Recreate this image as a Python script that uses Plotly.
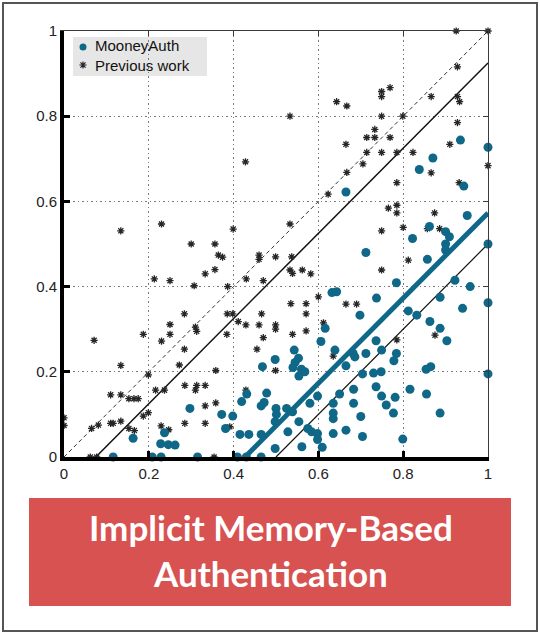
import plotly.graph_objects as go

# ---- data -------------------------------------------------------------
mooney_points = [
    (0.116, 0.0), (0.208, 0.0), (0.229, 0.0), (0.315, 0.0), (0.409, 0.0), (0.430, 0.0), (0.465, 0.0),
    (0.163, 0.044), (0.237, 0.057), (0.228, 0.031), (0.246, 0.029), (0.262, 0.028), (0.297, 0.114),
    (0.372, 0.100), (0.398, 0.096), (0.381, 0.067), (0.415, 0.053), (0.436, 0.053), (0.465, 0.053),
    (0.419, 0.130), (0.431, 0.148), (0.468, 0.212), (0.465, 0.120), (0.472, 0.128), (0.478, 0.150),
    (0.498, 0.229), (0.543, 0.251), (0.553, 0.232), (0.545, 0.222), (0.540, 0.210), (0.560, 0.206),
    (0.568, 0.200), (0.554, 0.190), (0.616, 0.302), (0.606, 0.271), (0.639, 0.251), (0.632, 0.386),
    (0.643, 0.388), (0.500, 0.114), (0.525, 0.114), (0.539, 0.106), (0.501, 0.100), (0.498, 0.083),
    (0.580, 0.126), (0.598, 0.143), (0.635, 0.126), (0.635, 0.103), (0.635, 0.090), (0.528, 0.059),
    (0.554, 0.083), (0.575, 0.067), (0.584, 0.059), (0.598, 0.055), (0.598, 0.041), (0.498, 0.020),
    (0.561, 0.024), (0.609, 0.023), (0.635, 0.055), (0.650, 0.148), (0.665, 0.063), (0.700, 0.095),
    (0.704, 0.048), (0.683, 0.159), (0.683, 0.126), (0.665, 0.214), (0.682, 0.243), (0.686, 0.235),
    (0.712, 0.243), (0.704, 0.195), (0.730, 0.197), (0.748, 0.200), (0.736, 0.273), (0.749, 0.251),
    (0.784, 0.243), (0.778, 0.226), (0.698, 0.333), (0.737, 0.373), (0.712, 0.480), (0.784, 0.409),
    (0.736, 0.165), (0.816, 0.159), (0.749, 0.143), (0.781, 0.140), (0.855, 0.148), (0.760, 0.122),
    (0.777, 0.103), (0.887, 0.103), (0.799, 0.042), (0.854, 0.206), (0.865, 0.212), (1.000, 0.195),
    (0.812, 0.343), (0.832, 0.333), (0.863, 0.318), (0.887, 0.302), (0.903, 0.273), (0.887, 0.375),
    (0.922, 0.415), (0.958, 0.400), (0.940, 0.349), (1.000, 0.362), (1.000, 0.500), (0.857, 0.464),
    (0.665, 0.622), (0.838, 0.675), (0.870, 0.702), (0.935, 0.744), (1.000, 0.727), (0.943, 0.636),
    (0.951, 0.567), (0.862, 0.541), (0.900, 0.529), (0.909, 0.517), (0.822, 0.513), (0.900, 0.500),
    (0.900, 0.486),
]

previous_points = [
    (0.000, 0.092), (0.000, 0.074), (0.062, 0.000), (0.077, 0.000), (0.065, 0.067), (0.081, 0.075),
    (0.110, 0.079), (0.116, 0.079), (0.134, 0.084), (0.153, 0.067), (0.166, 0.062), (0.229, 0.073),
    (0.247, 0.064), (0.285, 0.079), (0.333, 0.079), (0.110, 0.146), (0.134, 0.146), (0.153, 0.137),
    (0.165, 0.137), (0.175, 0.137), (0.199, 0.104), (0.187, 0.096), (0.199, 0.193), (0.134, 0.215),
    (0.071, 0.274), (0.216, 0.157), (0.237, 0.157), (0.285, 0.168), (0.313, 0.168), (0.333, 0.168),
    (0.310, 0.157), (0.358, 0.127), (0.333, 0.120), (0.272, 0.216), (0.284, 0.253), (0.230, 0.272),
    (0.187, 0.288), (0.250, 0.288), (0.250, 0.311), (0.284, 0.336), (0.310, 0.305), (0.313, 0.295),
    (0.213, 0.418), (0.250, 0.414), (0.307, 0.402), (0.333, 0.430), (0.356, 0.440), (0.386, 0.400),
    (0.430, 0.418), (0.470, 0.414), (0.300, 0.500), (0.356, 0.500), (0.364, 0.474), (0.374, 0.469),
    (0.460, 0.474), (0.460, 0.464), (0.499, 0.470), (0.537, 0.470), (0.533, 0.439), (0.539, 0.431),
    (0.562, 0.439), (0.582, 0.430), (0.385, 0.336), (0.398, 0.336), (0.411, 0.318), (0.429, 0.310),
    (0.466, 0.336), (0.460, 0.310), (0.499, 0.310), (0.499, 0.300), (0.384, 0.288), (0.470, 0.280),
    (0.539, 0.288), (0.571, 0.296), (0.571, 0.336), (0.571, 0.360), (0.535, 0.360), (0.600, 0.376),
    (0.612, 0.315), (0.455, 0.253), (0.635, 0.237), (0.358, 0.203), (0.499, 0.203), (0.429, 0.157),
    (0.391, 0.071), (0.354, 0.000), (0.665, 0.359), (0.690, 0.359), (0.749, 0.439), (0.812, 0.462),
    (0.785, 0.275), (0.875, 0.286), (0.134, 0.531), (0.230, 0.547), (0.399, 0.535), (0.428, 0.693),
    (0.533, 0.800), (0.533, 0.547), (0.623, 0.617), (0.643, 0.834), (0.667, 0.824), (0.665, 0.734),
    (0.667, 0.668), (0.925, 1.000), (1.000, 1.000), (0.928, 0.916), (0.769, 0.867), (0.749, 0.858),
    (0.749, 0.846), (0.866, 0.846), (0.928, 0.846), (0.933, 0.834), (0.749, 0.800), (0.799, 0.800),
    (0.928, 0.785), (0.733, 0.769), (0.714, 0.750), (0.733, 0.750), (0.769, 0.750), (0.910, 0.734),
    (0.714, 0.715), (0.749, 0.715), (0.785, 0.715), (0.823, 0.715), (0.705, 0.688), (0.866, 0.667),
    (1.000, 0.684), (0.785, 0.644), (0.932, 0.644), (0.765, 0.584), (0.785, 0.591), (0.785, 0.573),
    (0.874, 0.573), (0.749, 0.531), (0.800, 0.539), (0.857, 0.536), (0.886, 0.536),
]

# reference lines y = x - offset
diagonal_offset = 0.0
upper_bound_offset = 0.075
lower_bound_offset = 0.5
fit_offset = 0.427

tick_values = [0, 0.2, 0.4, 0.6, 0.8, 1]
tick_labels = ["0", "0.2", "0.4", "0.6", "0.8", "1"]

series_names = ["MooneyAuth", "Previous work"]
title_lines = ["Implicit Memory-Based", "Authentication"]

# ---- layout geometry (pixels) ----------------------------------------
W, H = 540, 634
L, R, T, B = 64, 488, 31, 457

def px_x(p):
    return (p - L) / (R - L)

def px_y(p):
    return (B - p) / (B - T)

BLUE = "#0f6887"
STAR = "#262626"
SANS = "Liberation Sans, Arial, sans-serif"
TICK_FONT = dict(family=SANS, size=15, color="#222222")

fig = go.Figure()

def offset_line(offset, **line):
    xs = [max(0.0, offset), 1.0]
    ys = [x - offset for x in xs]
    fig.add_trace(go.Scatter(x=xs, y=ys, mode="lines", line=line,
                             showlegend=False, hoverinfo="skip"))

offset_line(diagonal_offset, color="#333333", width=1, dash="4px,3px")
offset_line(upper_bound_offset, color="#111111", width=1.5)
offset_line(lower_bound_offset, color="#111111", width=1.2)

px_, py_ = zip(*previous_points)
fig.add_trace(go.Scatter(
    x=px_, y=py_, mode="markers", name=series_names[1], showlegend=False,
    marker=dict(symbol="asterisk-open", size=6, color=STAR, line=dict(color=STAR, width=1.3)),
    cliponaxis=False,
))

mx, my = zip(*mooney_points)
fig.add_trace(go.Scatter(
    x=mx, y=my, mode="markers", name=series_names[0], showlegend=False,
    marker=dict(symbol="circle", size=9, color=BLUE),
    cliponaxis=False,
))

offset_line(fit_offset, color=BLUE, width=5)

# legend keys
fig.add_trace(go.Scatter(
    x=[px_x(83)], y=[px_y(47)], mode="markers", showlegend=False, hoverinfo="skip",
    marker=dict(symbol="circle", size=7, color=BLUE), cliponaxis=False))
fig.add_trace(go.Scatter(
    x=[px_x(83)], y=[px_y(65)], mode="markers", showlegend=False, hoverinfo="skip",
    marker=dict(symbol="asterisk-open", size=6, color=STAR, line=dict(color=STAR, width=1.2)),
    cliponaxis=False))

# invisible trace so the mirrored top/right axes are drawn
fig.add_trace(go.Scatter(x=[None], y=[None], xaxis="x2", yaxis="y2",
                         showlegend=False, hoverinfo="skip"))

axis_common = dict(
    range=[0, 1], tickvals=tick_values, ticktext=tick_labels,
    showgrid=True, gridcolor="#7a7a7a", griddash="1.5px,3px", gridwidth=1,
    zeroline=False, showline=True, linecolor="#000000", linewidth=4,
    ticks="inside", ticklen=6, tickwidth=3, tickcolor="#000000",
    tickfont=TICK_FONT, fixedrange=True,
)
mirror_common = dict(
    range=[0, 1], tickvals=tick_values, showticklabels=False,
    showgrid=False, zeroline=False, showline=True, linecolor="#3a3a3a", linewidth=1,
    ticks="inside", ticklen=5, tickwidth=1, tickcolor="#3a3a3a", fixedrange=True,
)

fig.update_layout(
    width=W, height=H,
    margin=dict(l=L, r=W - R, t=T, b=H - B),
    paper_bgcolor="white", plot_bgcolor="white",
    showlegend=False,
    xaxis=dict(**axis_common),
    yaxis=dict(**axis_common),
    xaxis2=dict(overlaying="x", side="top", anchor="y", **mirror_common),
    yaxis2=dict(overlaying="y", side="right", anchor="x", **mirror_common),
    shapes=[
        # legend background
        dict(type="rect", xref="paper", yref="paper",
             x0=px_x(73), x1=px_x(207), y0=px_y(76), y1=px_y(37),
             fillcolor="#e6e6e6", line=dict(width=0), layer="between"),
        # title banner
        dict(type="rect", xref="paper", yref="paper",
             x0=px_x(29), x1=px_x(511), y0=px_y(606), y1=px_y(498),
             fillcolor="#d75250", line=dict(width=0), layer="above"),
        # outer frame
        dict(type="rect", xref="paper", yref="paper",
             x0=px_x(3), x1=px_x(537), y0=px_y(631), y1=px_y(3),
             fillcolor="rgba(0,0,0,0)", line=dict(color="#555555", width=2), layer="above"),
    ],
    annotations=[
        dict(xref="paper", yref="paper", x=px_x(93), y=px_y(56), xanchor="left", yanchor="middle",
             text="<br>".join(series_names), showarrow=False, align="left",
             font=dict(family=SANS, size=15, color="#111111")),
        dict(xref="paper", yref="paper", x=px_x(271), y=px_y(550), xanchor="center", yanchor="middle",
             text="<b>" + "<br>".join(title_lines) + "</b>", showarrow=False,
             font=dict(family="Lato, 'Open Sans', sans-serif", size=35, color="white")),
    ],
)

fig.write_html("out.html")
